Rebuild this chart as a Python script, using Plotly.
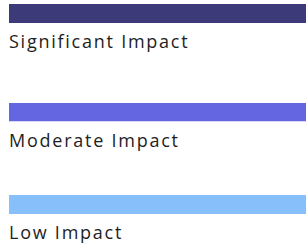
import plotly.graph_objects as go

categories = ["Significant Impact", "Moderate Impact", "Low Impact"]
values = [100, 100, 100]
colors = ["#3C3A78", "#6366E0", "#86BFFA"]

H = 245.0
# bar bands in pixels from top (layout positions)
bands = [(4, 23), (103, 121.5), (195, 214)]

fig = go.Figure()
layout_axes = {}
for i, (cat, val, col) in enumerate(zip(categories, values, colors)):
    n = "" if i == 0 else str(i + 1)
    fig.add_trace(go.Bar(
        x=[val], y=[cat], orientation="h",
        marker=dict(color=col, line=dict(width=0)),
        width=1, hoverinfo="skip",
        xaxis="x" + n, yaxis="y" + n,
    ))
    top, bot = bands[i]
    layout_axes["xaxis" + n] = dict(range=[0, 100], visible=False, fixedrange=True,
                                    domain=[0, 1], anchor="y" + n)
    layout_axes["yaxis" + n] = dict(visible=False, fixedrange=True,
                                    domain=[1 - bot / H, 1 - top / H], anchor="x" + n,
                                    range=[-0.5, 0.5])
    fig.add_annotation(
        x=0, y=-0.5, xref="x" + n, yref="y" + n,
        text='<span style="letter-spacing:1.75px">' + cat + '</span>',
        showarrow=False, xanchor="left", yanchor="top",
        yshift=-4, xshift=-2,
        font=dict(family="Open Sans", size=18, color="#1E1E1E"),
    )

fig.update_layout(
    width=308, height=245,
    margin=dict(l=9, r=2, t=0, b=0),
    paper_bgcolor="white", plot_bgcolor="white",
    showlegend=False,
    **layout_axes,
)

fig.write_html("out.html", config={"displayModeBar": False},
               post_script="document.body.style.margin='0';document.body.style.overflow='hidden';")
